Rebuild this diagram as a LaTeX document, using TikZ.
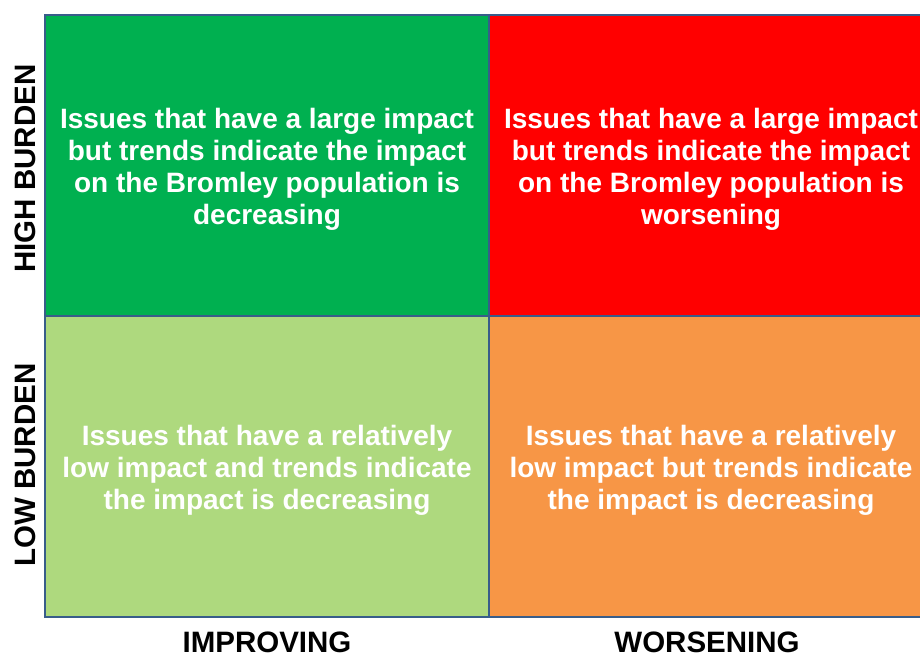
\documentclass[tikz,border=0pt]{standalone}
\usepackage{fontspec}
\setmainfont{Liberation Sans}
\usetikzlibrary{positioning}

\definecolor{highgreen}{HTML}{00B050}
\definecolor{highred}{HTML}{FF0000}
\definecolor{lowgreen}{HTML}{AED97E}
\definecolor{loworange}{HTML}{F79646}
\definecolor{gridblue}{HTML}{385D8A}

\begin{document}
\begin{tikzpicture}[
    x=1pt, y=1pt,
    cell/.style={
        rectangle,
        draw=gridblue,
        line width=2pt,
        minimum width=444pt,
        minimum height=301pt,
        inner sep=0pt
    },
    celltext/.style={
        yshift=-4pt,
        inner sep=0pt,
        align=center,
        text=white,
        font=\bfseries\fontsize{28}{32}\selectfont
    },
    axislabel/.style={font=\bfseries\fontsize{29.5}{34}\selectfont, text=black, inner sep=0pt}
]
\useasboundingbox (0,0) rectangle (920,655);

% Cuadrantes
\node[cell, fill=highgreen] (hiimp) at (267,489.5) {};
\node[cell, fill=highred] (hiwor) at (711,489.5) {};
\node[cell, fill=lowgreen] (loimp) at (267,188.5) {};
\node[cell, fill=loworange] (lowor) at (711,188.5) {};

% Textos
\node[celltext] (hiimptxt) at (hiimp.center) {Issues that have a large impact\\but trends indicate the impact\\on the Bromley population is\\decreasing};
\node[celltext] (hiwortxt) at (hiwor.center) {Issues that have a large impact\\but trends indicate the impact\\on the Bromley population is\\worsening};
\node[celltext] (loimptxt) at (loimp.center) {Issues that have a relatively\\low impact and trends indicate\\the impact is decreasing};
\node[celltext] (lowortxt) at (lowor.center) {Issues that have a relatively\\low impact but trends indicate\\the impact is decreasing};

% Ejes
\node[axislabel, rotate=90] (high) at (25,486.5) {HIGH BURDEN};
\node[axislabel, rotate=90] (low) at (25,190) {LOW BURDEN};
\node[axislabel, anchor=base] (impr) at (267,2) {IMPROVING};
\node[axislabel, anchor=base] (wors) at (707,2) {WORSENING};

\end{tikzpicture}
\end{document}
